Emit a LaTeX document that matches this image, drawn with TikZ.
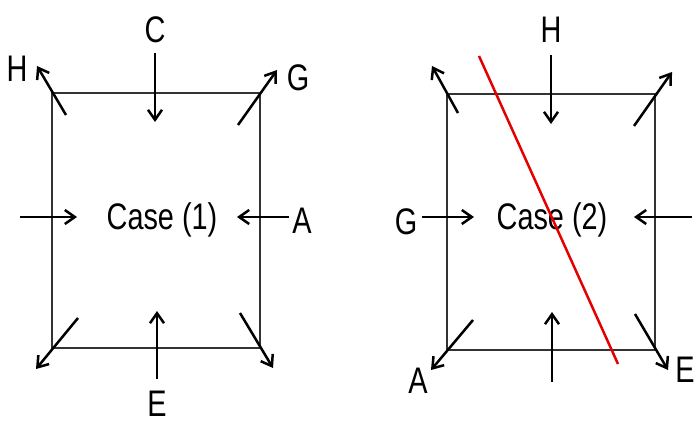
\documentclass[tikz,border=0pt]{standalone}
\usepackage{fontspec}
\setmainfont{Liberation Sans}
\usetikzlibrary{arrows.meta}
\begin{document}
\begin{tikzpicture}[x=1pt,y=-1pt,
  box/.style={draw=black!80, line width=1.3pt},
  force/.style={draw=black, line width=2.5pt, -{Straight Barb[length=10pt,width=14pt,line width=2.5pt]}},
  lbl/.style={inner sep=0pt, font=\fontsize{37}{40}\selectfont},
  cut/.style={draw=red!90!black, line width=2.5pt}]
\useasboundingbox (0,0) rectangle (696,423);
% ---------- Case 1 ----------
\draw[box] (52,93) rectangle (260,348);
\node[lbl] (case1) at (162,220) {\scalebox{0.78}[1]{Case (1)}};
\node[lbl] (C1) at (155,30) {\scalebox{0.78}[1]{C}};
\node[lbl] (H1) at (17,69) {\scalebox{0.78}[1]{H}};
\node[lbl] (G1) at (298,78) {\scalebox{0.78}[1]{G}};
\node[lbl] (A1) at (302,221) {\scalebox{0.78}[1]{A}};
\node[lbl] (E1) at (157,404) {\scalebox{0.78}[1]{E}};
\coordinate (c1s) at (155,53);  \coordinate (c1e) at (155,122);
\coordinate (h1s) at (66,115);  \coordinate (h1e) at (37,66);
\coordinate (g1s) at (238,125); \coordinate (g1e) at (277,70);
\coordinate (l1s) at (20,217);  \coordinate (l1e) at (77,217);
\coordinate (a1s) at (289,217); \coordinate (a1e) at (237,217);
\coordinate (bl1s) at (78,318); \coordinate (bl1e) at (36,369);
\coordinate (e1s) at (157,379); \coordinate (e1e) at (157,311);
\coordinate (br1s) at (240,313);\coordinate (br1e) at (273,368);
\draw[force] (c1s) -- (c1e);
\draw[force] (h1s) -- (h1e);
\draw[force] (g1s) -- (g1e);
\draw[force] (l1s) -- (l1e);
\draw[force] (a1s) -- (a1e);
\draw[force] (bl1s) -- (bl1e);
\draw[force] (e1s) -- (e1e);
\draw[force] (br1s) -- (br1e);
% ---------- Case 2 ----------
\draw[box] (447,94) rectangle (655,350);
\node[lbl] (case2) at (552,220) {\scalebox{0.78}[1]{Case (2)}};
\node[lbl] (H2) at (551,30) {\scalebox{0.78}[1]{H}};
\node[lbl] (G2) at (406,222) {\scalebox{0.78}[1]{G}};
\node[lbl] (A2) at (418,381) {\scalebox{0.78}[1]{A}};
\node[lbl] (E2) at (685,370) {\scalebox{0.78}[1]{E}};
\coordinate (h2s) at (551,55);  \coordinate (h2e) at (551,124);
\coordinate (ul2s) at (458,113);\coordinate (ul2e) at (432,66);
\coordinate (ur2s) at (634,126);\coordinate (ur2e) at (672,72);
\coordinate (g2s) at (422,217); \coordinate (g2e) at (474,217);
\coordinate (r2s) at (692,217); \coordinate (r2e) at (634,217);
\coordinate (bl2s) at (473,320);\coordinate (bl2e) at (431,370);
\coordinate (u2s) at (552,382); \coordinate (u2e) at (552,312);
\coordinate (br2s) at (635,314);\coordinate (br2e) at (668,370);
\draw[force] (h2s) -- (h2e);
\draw[force] (ul2s) -- (ul2e);
\draw[force] (ur2s) -- (ur2e);
\draw[force] (g2s) -- (g2e);
\draw[force] (r2s) -- (r2e);
\draw[force] (bl2s) -- (bl2e);
\draw[force] (u2s) -- (u2e);
\draw[force] (br2s) -- (br2e);
\coordinate (cuts) at (479,56); \coordinate (cute) at (618,364);
\draw[cut] (cuts) -- (cute);
\end{tikzpicture}
\end{document}
